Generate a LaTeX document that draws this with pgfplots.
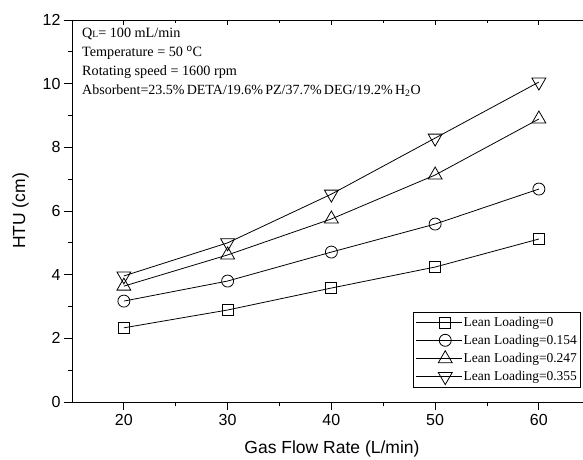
\documentclass[border=0pt]{standalone}
\usepackage{pgfplots}
\pgfplotsset{compat=1.18}
\usepackage{fontspec}
\setmainfont{Liberation Sans}
\newfontfamily\tnr{Liberation Serif}

\begin{document}
\begin{tikzpicture}
\path[use as bounding box] (-72pt,-57pt) rectangle (511pt,402pt);
% top axis ticks only (pointing inward)
\begin{axis}[
    scale only axis,
    width=520pt, height=382pt,
    xmin=15, xmax=65.12,
    ymin=0, ymax=12,
    axis x line*=top,
    axis y line=none,
    xtick={20,30,40,50,60},
    xticklabels={},
    minor x tick num=1,
    xtick align=inside,
    major tick length=5pt,
    minor tick length=3pt,
    tick style={black, line width=0.8pt},
    axis line style={line width=0.9pt, -},
]
\end{axis}
\begin{axis}[
    scale only axis,
    width=520pt, height=382pt,
    xmin=15, xmax=65.12,
    ymin=0, ymax=12,
    xtick={20,30,40,50,60},
    ytick={0,2,4,6,8,10,12},
    minor x tick num=1,
    minor y tick num=1,
    tick align=outside,
    tick pos=left,
    major tick length=8pt,
    minor tick length=4pt,
    tick style={black, line width=0.8pt},
    axis line style={line width=0.9pt},
    /pgf/number format/assume math mode=true,
    ticklabel style={font=\fontsize{16}{18}\selectfont},
    xticklabel style={yshift=-1pt},
    xlabel={Gas Flow Rate (L/min)},
    ylabel={HTU (cm)},
    label style={font=\fontsize{17.5}{20}\selectfont},
    xlabel style={yshift=-8pt},
    ylabel style={yshift=7pt},
    every axis plot/.append style={line width=0.8pt, black, mark options={fill=white, solid, line width=0.8pt}},
    legend style={at={(axis cs:64,0.44)}, anchor=south east,
        font=\tnr\fontsize{13.5}{15}\selectfont, draw=black, line width=0.8pt,
        row sep=3pt, inner xsep=2pt, inner ysep=3pt, cells={anchor=west},
        nodes={inner xsep=1pt}},
    legend image code/.code={\path (0pt,0pt) -- (12pt,0pt);
        \draw[mark repeat=2,mark phase=2] plot coordinates {(12pt,0pt)(29pt,0pt)(46pt,0pt)};},
]
\addplot[mark=square, mark size=5.5pt] coordinates {(20,2.33) (30,2.89) (40,3.58) (50,4.24) (60,5.12)};
\addlegendentry{Lean Loading=0}
\addplot[mark=o, mark size=6pt] coordinates {(20,3.17) (30,3.80) (40,4.71) (50,5.59) (60,6.69)};
\addlegendentry{Lean Loading=0.154}
\addplot[mark=triangle, mark size=8pt] coordinates {(20,3.64) (30,4.62) (40,5.75) (50,7.13) (60,8.89)};
\addlegendentry{Lean Loading=0.247}
\addplot[mark=triangle, mark size=8pt, mark options={rotate=180}] coordinates {(20,3.96) (30,5.00) (40,6.53) (50,8.29) (60,10.05)};
\addlegendentry{Lean Loading=0.355}
\node[anchor=north west, align=left, inner sep=0pt,
      font=\tnr\fontsize{14.2}{19}\selectfont]
  at ([xshift=10pt,yshift=-8pt]axis cs:15,12)
  {Q{\fontsize{9.5}{10}\selectfont L}= 100 mL/min\\
   Temperature = 50 $^{\mathrm{o}}$C\\
   Rotating speed = 1600 rpm\\
   {\fontsize{14}{19}\selectfont\spaceskip=0.16em plus 0.05em Absorbent=23.5\% DETA/19.6\% PZ/37.7\% DEG/19.2\% H\textsubscript{2}O}};
\end{axis}
\end{tikzpicture}
\end{document}
